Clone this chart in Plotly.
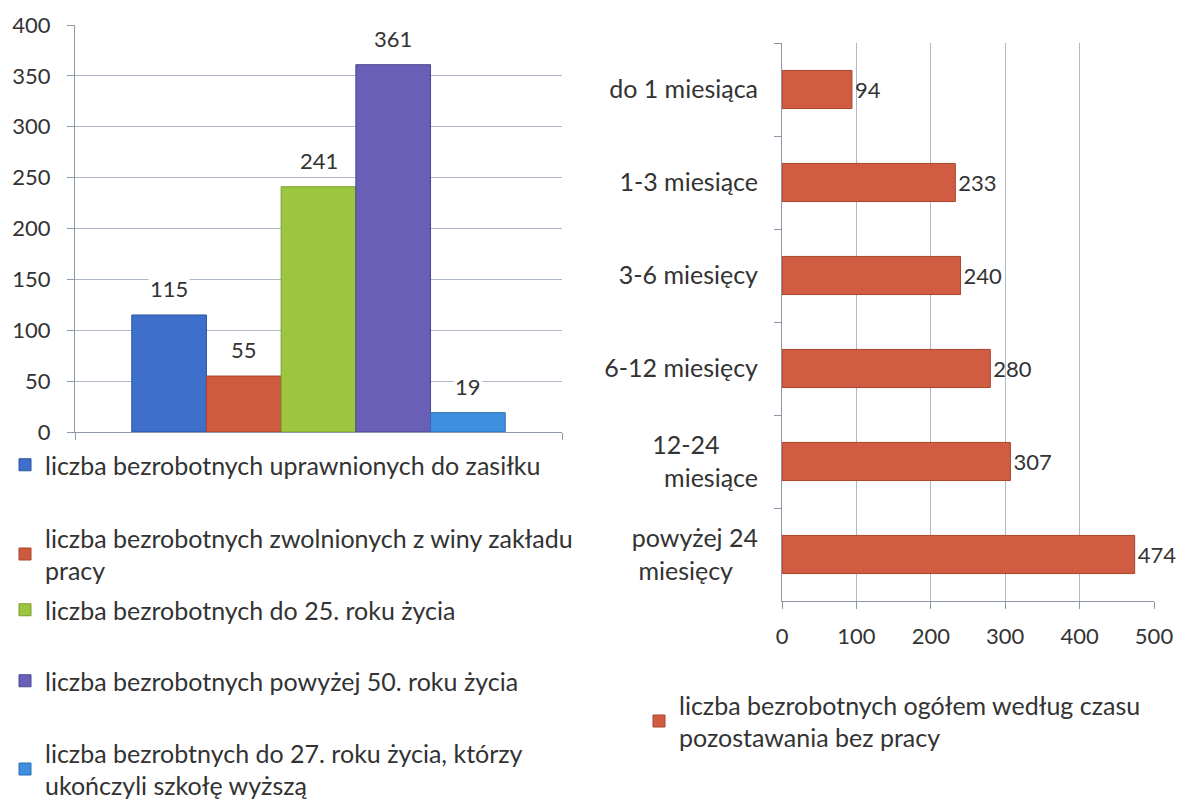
import plotly.graph_objects as go

# left chart: selected groups of the unemployed
left_names = [
    'liczba bezrobotnych uprawnionych do zasiłku',
    'liczba bezrobotnych zwolnionych z winy zakładu<br>pracy',
    'liczba bezrobotnych do 25. roku życia',
    'liczba bezrobotnych powyżej 50. roku życia',
    'liczba bezrobtnych do 27. roku życia, którzy<br>ukończyli szkołę wyższą',
]
left_values = [115, 55, 241, 361, 19]
left_colors = ['#3d6fcb', '#cf5b3f', '#9cc63f', '#6a5fb6', '#3f8fe0']
left_lines = ['#2c54a0', '#a8432c', '#7a9c2c', '#4e4590', '#2c6fb5']

# right chart: unemployed by time without work
right_cats = ['do 1 miesiąca', '1-3 miesiące', '3-6 miesięcy', '6-12 miesięcy',
              '12-24\u00a0\u00a0\u00a0\u00a0\u00a0\u00a0<br>miesiące',
              'powyżej 24<br>miesięcy\u00a0\u00a0\u00a0\u00a0']
right_values = [94, 233, 240, 280, 307, 474]
right_name = 'liczba bezrobotnych ogółem według czasu<br>pozostawania bez pracy'

FONT = 'Lato'
TXT = '#333333'
GRID = '#aeb8c6'
AXIS = '#8e98a4'
NUM = 22   # digits
LBL = 25   # words

# the page body has an 8px margin, so the figure is made 8px smaller
OFF = 8
W, H = 1185 - OFF, 802 - OFF


def px(a):
    return (a - OFF) / W


def py(a):
    return 1 - (a - OFF) / H


fig = go.Figure()

legend_ids = ['legend', 'legend2', 'legend3', 'legend4', 'legend5']
for i, (name, val) in enumerate(zip(left_names, left_values)):
    fig.add_trace(go.Bar(
        x=[i], y=[val], width=1, name=name,
        marker=dict(color=left_colors[i], line=dict(color=left_lines[i], width=1)),
        xaxis='x', yaxis='y', legend=legend_ids[i], showlegend=True,
    ))
    fig.add_annotation(
        x=i, y=val, xref='x', yref='y', text=str(val), showarrow=False,
        yanchor='bottom', yshift=11, bgcolor='white',
        font=dict(family=FONT, size=NUM, color=TXT),
    )

fig.add_trace(go.Bar(
    y=right_cats, x=right_values, orientation='h', name=right_name,
    marker=dict(color='#d05d42', line=dict(color='#a8432c', width=1)),
    text=right_values, textposition='outside', cliponaxis=False,
    textfont=dict(family=FONT, size=NUM, color=TXT),
    xaxis='x2', yaxis='y2', legend='legend6', showlegend=True,
))

axis_common = dict(showline=True, linecolor=AXIS, linewidth=1, ticks='outside',
                   tickcolor=AXIS, ticklen=7, zeroline=False, automargin=False)

left_pad = 0.76
fig.update_layout(
    width=W, height=H,
    margin=dict(l=0, r=0, t=0, b=0, autoexpand=False),
    paper_bgcolor='white', plot_bgcolor='white',
    barmode='overlay', bargap=0.59,
    font=dict(family=FONT, size=LBL, color=TXT),
    xaxis=dict(domain=[px(75), px(562)], anchor='y',
               range=[-0.5 - left_pad, len(left_values) - 0.5 + left_pad],
               tickvals=[-0.5 - left_pad, len(left_values) - 0.5 + left_pad],
               ticktext=['', ''], showgrid=False, **axis_common),
    yaxis=dict(domain=[py(432), py(25)], anchor='x', range=[0, 400], dtick=50,
               showgrid=True, gridcolor=GRID, ticklabelstandoff=12,
               tickfont=dict(family=FONT, size=NUM, color=TXT), **axis_common),
    xaxis2=dict(domain=[px(782), px(1154)], anchor='y2', range=[0, 500], dtick=100,
                showgrid=True, gridcolor=GRID, ticklabelstandoff=9,
                tickfont=dict(family=FONT, size=NUM, color=TXT), **axis_common),
    yaxis2=dict(domain=[py(601), py(43)], anchor='x2', type='category',
                autorange='reversed', tickson='boundaries', showgrid=False,
                ticklabelstandoff=18,
                tickfont=dict(family=FONT, size=LBL, color=TXT), **axis_common),
)

# legend text starts ~41px right of the legend box, first line ~25px below its top
legend_style = dict(bgcolor='rgba(0,0,0,0)', borderwidth=0, xanchor='left', yanchor='top',
                    font=dict(family=FONT, size=LBL, color=TXT))
left_targets = [467, 540, 612, 683, 755]
for lid, t in zip(legend_ids, left_targets):
    fig.update_layout({lid: dict(x=px(46 - 41), y=py(t - 25), **legend_style)})
fig.update_layout(legend6=dict(x=px(680 - 41), y=py(707 - 25), **legend_style))

fig.write_html('out.html')
